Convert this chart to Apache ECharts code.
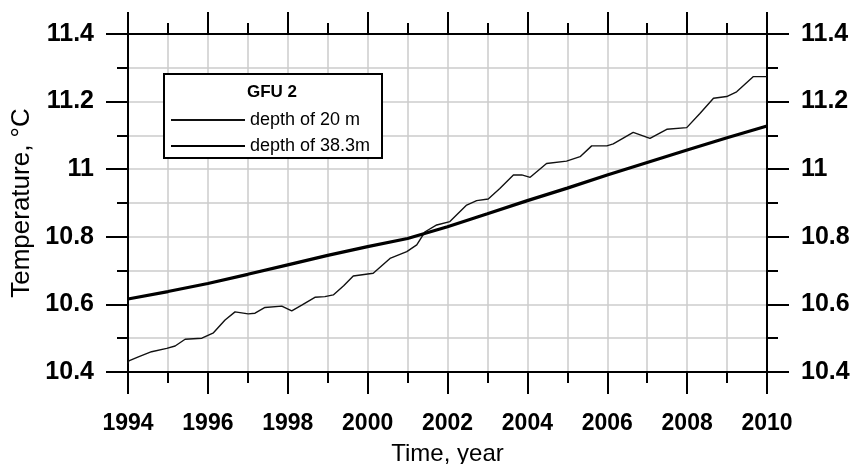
<!DOCTYPE html>
<html>
<head>
<meta charset="utf-8">
<script src="https://cdn.jsdelivr.net/npm/echarts@6/dist/echarts.min.js"></script>
<style>html,body{margin:0;padding:0;background:#fff}#c{width:856px;height:464px}</style>
</head>
<body>
<div id="c"></div>
<script>
// Depth 20 m (time in years, temperature in °C)
var years20 = [1994.0,1994.02,1994.26,1994.59,1994.97,1995.18,1995.43,1995.85,1996.14,1996.43,1996.68,1997.01,1997.18,1997.43,1997.85,1998.1,1998.35,1998.68,1998.93,1999.14,1999.4,1999.64,2000.14,2000.56,2000.98,2001.23,2001.44,2001.73,2002.06,2002.48,2002.73,2003.02,2003.31,2003.65,2003.86,2004.07,2004.48,2004.98,2005.32,2005.61,2005.99,2006.15,2006.65,2007.07,2007.49,2007.99,2008.32,2008.66,2008.99,2009.24,2009.66,2010.0];
var temp20 = [10.425,10.433,10.445,10.46,10.47,10.477,10.497,10.5,10.516,10.554,10.578,10.572,10.574,10.591,10.595,10.581,10.598,10.621,10.623,10.628,10.655,10.684,10.692,10.736,10.756,10.776,10.815,10.835,10.845,10.894,10.907,10.912,10.943,10.983,10.983,10.976,11.017,11.024,11.037,11.069,11.069,11.075,11.109,11.091,11.118,11.123,11.165,11.21,11.215,11.229,11.274,11.274];
// Depth 38.3 m
var years38 = [1994,1995,1996,1997,1998,1999,2000,2001,2002,2003,2004,2005,2006,2007,2008,2009,2010];
var temp38 = [10.616,10.638,10.662,10.689,10.717,10.745,10.771,10.795,10.83,10.868,10.907,10.944,10.983,11.02,11.057,11.093,11.128];
var xTicks = [1994,1996,1998,2000,2002,2004,2006,2008,2010];
var yTicks = [10.4,10.6,10.8,11,11.2,11.4];
var seriesNames = ['depth of 20 m','depth of 38.3m'];
var legendTitle = 'GFU 2';
var xName = 'Time, year';
var yName = 'Temperature, °C';

function pairs(xs, ys){ return xs.map(function(x,i){ return [x, ys[i]]; }); }

var FONT = 'Liberation Sans, Arial, sans-serif';
var gridColor = '#cccccc';
var axisLine = {show:true, onZero:false, lineStyle:{color:'#000', width:2}};
var tick = {show:true, inside:false, length:22, lineStyle:{color:'#000', width:2}};
var minorTick = {show:true, splitNumber:2, length:11, lineStyle:{color:'#000', width:2}};
var split = {show:true, lineStyle:{color:gridColor, width:1.5}};
var minorSplit = {show:true, lineStyle:{color:gridColor, width:1.5}};

function yLabel(v){
  for (var i=0;i<yTicks.length;i++){ if (Math.abs(v-yTicks[i])<1e-6) return String(yTicks[i]); }
  return '';
}
function xLabel(v){
  for (var i=0;i<xTicks.length;i++){ if (Math.abs(v-xTicks[i])<1e-6) return String(xTicks[i]); }
  return '';
}

var chart = echarts.init(document.getElementById('c'), null, {renderer:'canvas'});
chart.setOption({
  animation:false,
  backgroundColor:'#fff',
  textStyle:{fontFamily:FONT},
  grid:{left:128, right:89, top:34, bottom:92, containLabel:false, outerBoundsMode:'none'},
  xAxis:[{
    type:'value', position:'bottom', min:xTicks[0], max:xTicks[xTicks.length-1], interval:2,
    axisLine:axisLine, axisTick:tick, minorTick:minorTick, splitLine:split, minorSplitLine:minorSplit,
    axisLabel:{show:true, margin:40, color:'#000', fontSize:23, fontWeight:'bold', fontFamily:FONT, formatter:xLabel},
    name:xName, nameLocation:'middle', nameGap:70,
    nameTextStyle:{color:'#000', fontSize:24, fontFamily:FONT}
  },{
    type:'value', position:'top', min:xTicks[0], max:xTicks[xTicks.length-1], interval:2,
    axisLine:axisLine, axisTick:tick, minorTick:minorTick, splitLine:{show:false},
    axisLabel:{show:false}
  }],
  yAxis:[{
    type:'value', position:'left', min:yTicks[0], max:yTicks[yTicks.length-1], interval:0.2,
    axisLine:axisLine, axisTick:tick, minorTick:minorTick, splitLine:split, minorSplitLine:minorSplit,
    axisLabel:{show:true, margin:34, color:'#000', fontSize:25, fontWeight:'bold', fontFamily:FONT, formatter:yLabel},
    name:yName, nameLocation:'middle', nameGap:81, nameRotate:90,
    nameTextStyle:{color:'#000', fontSize:26, fontFamily:FONT}
  },{
    type:'value', position:'right', min:yTicks[0], max:yTicks[yTicks.length-1], interval:0.2,
    axisLine:axisLine, axisTick:tick, minorTick:minorTick, splitLine:{show:false},
    axisLabel:{show:true, margin:34, color:'#000', fontSize:25, fontWeight:'bold', fontFamily:FONT, formatter:yLabel}
  }],
  legend:{
    show:true, orient:'vertical', left:170, top:111, itemWidth:74, itemHeight:14, itemGap:8,
    padding:0,
    itemStyle:{color:'rgba(0,0,0,0)', borderWidth:0, opacity:0},
    textStyle:{color:'#000', fontSize:18, fontFamily:FONT},
    data:seriesNames, z:6
  },
  graphic:[
    {type:'rect', z:5, shape:{x:164, y:74, width:218, height:84}, style:{fill:'#fff', stroke:'#000', lineWidth:2}},
    {type:'text', z:6, x:272, y:92, style:{text:legendTitle, font:'bold 17px ' + FONT, fill:'#000', align:'center', verticalAlign:'middle'}}
  ],
  series:[{
    name:seriesNames[0], type:'line', data:pairs(years20,temp20), showSymbol:false, symbol:'none',
    lineStyle:{color:'#111', width:1.4}, itemStyle:{color:'#111'}, z:3
  },{
    name:seriesNames[1], type:'line', data:pairs(years38,temp38), showSymbol:false, symbol:'none',
    lineStyle:{color:'#000', width:3.2}, itemStyle:{color:'#000'}, z:3
  }]
});
</script>
</body>
</html>
